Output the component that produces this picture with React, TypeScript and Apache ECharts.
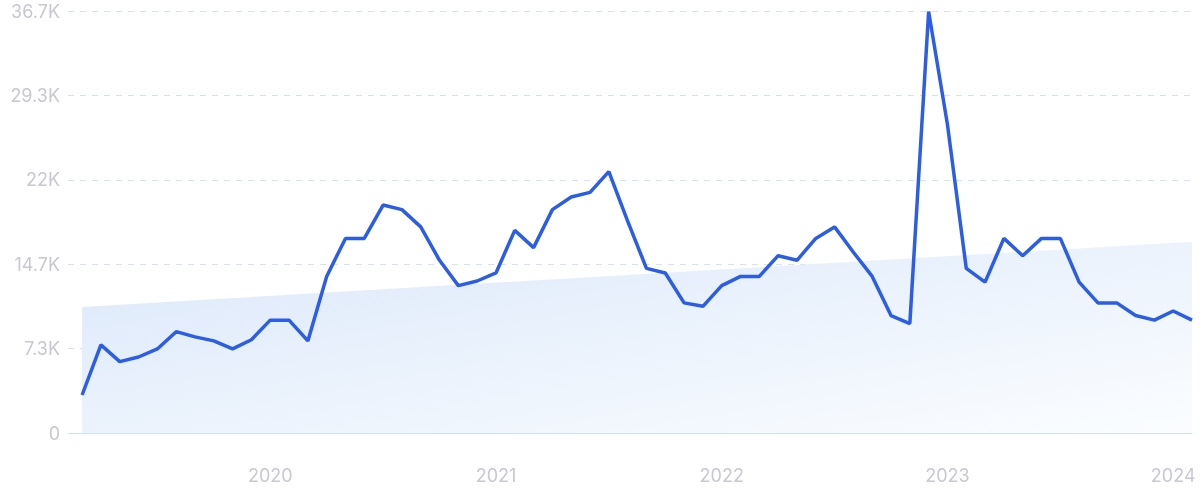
import React, { useEffect, useRef } from "react";
import * as echarts from "echarts";

const months: string[] = [
  "2019-03","2019-04","2019-05","2019-06","2019-07","2019-08","2019-09","2019-10","2019-11","2019-12",
  "2020-01","2020-02","2020-03","2020-04","2020-05","2020-06","2020-07","2020-08","2020-09","2020-10","2020-11","2020-12",
  "2021-01","2021-02","2021-03","2021-04","2021-05","2021-06","2021-07","2021-08","2021-09","2021-10","2021-11","2021-12",
  "2022-01","2022-02","2022-03","2022-04","2022-05","2022-06","2022-07","2022-08","2022-09","2022-10","2022-11","2022-12",
  "2023-01","2023-02","2023-03","2023-04","2023-05","2023-06","2023-07","2023-08","2023-09","2023-10","2023-11","2023-12",
  "2024-01","2024-02",
];

const searches: number[] = [
  3300, 7650, 6200, 6600, 7300, 8800, 8350, 8000, 7300, 8100,
  9800, 9800, 8000, 13600, 16900, 16900, 19800, 19400, 17900, 15000, 12800, 13200,
  13900, 17600, 16100, 19400, 20500, 20900, 22700, 18400, 14300, 13900, 11300, 11000,
  12800, 13600, 13600, 15400, 15000, 16900, 17900, 15700, 13600, 10200, 9500, 36600,
  26800, 14300, 13100, 16900, 15400, 16900, 16900, 13100, 11300, 11300, 10200, 9800,
  10600, 9800,
];

const trendStart = 10950;
const trendEnd = 16600;

const yMax = 36650;
const yInterval = 7330;
const yearTicks: string[] = ["2020-01", "2021-01", "2022-01", "2023-01", "2024-01"];

function fmtK(v: number): string {
  if (v === 0) return "0";
  const k = Math.round(v / 100) / 10;
  return `${k}K`;
}

// month index (months since Jan 2000)
function mIdx(m: string): number {
  const [y, mo] = m.split("-").map(Number);
  return (y - 2000) * 12 + (mo - 1);
}

export default function App() {
  const ref = useRef<HTMLDivElement>(null);
  useEffect(() => {
    if (!ref.current) return;
    const chart = echarts.init(ref.current, undefined, { renderer: "svg" });
    const lineData = months.map((m, i) => [mIdx(m), searches[i]]);
    const trendData = [
      [mIdx(months[0]), trendStart],
      [mIdx(months[months.length - 1]), trendEnd],
    ];
    const xMin = mIdx(months[0]) - 0.75;
    const xMax = mIdx(months[months.length - 1]);
    chart.setOption({
      animation: false,
      grid: { left: 68, right: 8, top: 11, bottom: 66, containLabel: false },
      xAxis: {
        type: "value",
        min: xMin,
        max: xMax,
        axisLine: { show: true, lineStyle: { color: "#d0e1fb", width: 1 } },
        axisTick: { show: false },
        splitLine: { show: false },
        axisLabel: {
          customValues: yearTicks.map(mIdx),
          formatter: (v: number) => String(2000 + Math.floor(Math.round(v) / 12)),
          color: "#c8c8d2",
          fontSize: 18,
          fontFamily: "Inter",
          margin: 33,
        },
      },
      yAxis: {
        type: "value",
        min: 0,
        max: yMax,
        interval: yInterval,
        axisLine: { show: false },
        axisTick: { show: false },
        splitLine: { show: true, lineStyle: { color: "#d3e2fa", type: [6, 6], width: 1 } },
        axisLabel: {
          formatter: (v: number) => fmtK(v),
          color: "#c8c8d2",
          fontSize: 18,
          fontFamily: "Inter",
          margin: 8,
        },
      },
      series: [
        {
          type: "line",
          data: trendData,
          symbol: "none",
          lineStyle: { width: 0, opacity: 0 },
          areaStyle: {
            opacity: 1,
            color: new echarts.graphic.LinearGradient(0, 0, 1, 1, [
              { offset: 0, color: "#dbe8fa" },
              { offset: 1, color: "#fbfdff" },
            ]),
          },
          silent: true,
          z: 1,
        },
        {
          type: "line",
          data: lineData,
          symbol: "none",
          lineStyle: { color: "#2c5de5", width: 3.5 },
          z: 3,
        },
      ],
    });
    return () => chart.dispose();
  }, []);
  return (
    <div
      ref={ref}
      style={{ position: "fixed", left: 0, top: 0, width: 1200, height: 499 }}
    />
  );
}
